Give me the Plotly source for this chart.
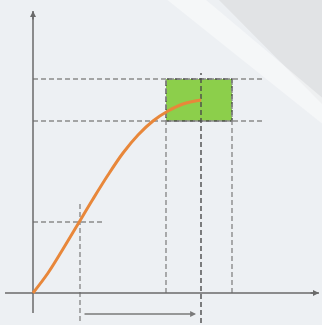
import plotly.graph_objects as go

# ---- data (units: chart units, origin at axes crossing) ----
curve_x = [0, 15, 30, 45, 60, 75, 90, 105, 120, 135, 150, 168]
curve_y = [0, 20, 44, 69, 94, 118, 140, 158, 172, 182, 189, 193]

rect_x = [133, 199]          # green box x-range
rect_y = [172, 214]          # green box y-range
h_levels = [172, 214]        # long horizontal dashed guides
h_extent = [0, 229]
v_box = [133, 199]           # vertical dashed guides under the box
v_box_range = [0, 214]
v_mid_x = 168
v_mid_range = [-30, 220]
small_x = 47
small_y = 71
small_v_range = [-28, 91]
small_h_range = [0, 69]
span_arrow = [50, 163]
span_arrow_y = -21
x_axis_range = [-28, 286]
y_axis_range = [-20, 282]

GUIDE = "#8a8a8a"
AXIS = "#6a6a6a"

fig = go.Figure()

# background decoration (paper coords)
fig.add_shape(type="path", xref="paper", yref="paper",
              path="M 0.68 1 L 1 1 L 1 0.68 Z",
              fillcolor="rgba(200,200,200,0.30)", line_width=0, layer="below")
fig.add_shape(type="path", xref="paper", yref="paper",
              path="M 0.52 1 L 0.64 1 L 1 0.70 L 1 0.62 Z",
              fillcolor="rgba(255,255,255,0.45)", line_width=0, layer="below")

def seg(xs, ys, color=GUIDE, dash="5px,3px", width=1.4):
    fig.add_trace(go.Scatter(x=xs, y=ys, mode="lines",
                             line=dict(color=color, width=width, dash=dash),
                             hoverinfo="skip", showlegend=False))

# green box
fig.add_trace(go.Scatter(x=[rect_x[0], rect_x[1], rect_x[1], rect_x[0], rect_x[0]],
                         y=[rect_y[0], rect_y[0], rect_y[1], rect_y[1], rect_y[0]],
                         mode="lines", fill="toself", fillcolor="#8ccf4b",
                         line=dict(color="#4a4a4a", width=1.4, dash="5px,3px"),
                         hoverinfo="skip", showlegend=False))

# horizontal guides
for lv in h_levels:
    seg(h_extent, [lv, lv])
# vertical guides under box
for vx in v_box:
    seg([vx, vx], v_box_range)
seg([v_mid_x, v_mid_x], v_mid_range, color="#4a4a4a")
# small guides
seg([small_x, small_x], small_v_range)
seg(small_h_range, [small_y, small_y])

# axes lines
seg(x_axis_range, [0, 0], color=AXIS, dash="solid", width=1.5)
seg([0, 0], y_axis_range, color=AXIS, dash="solid", width=1.5)

# orange curve
fig.add_trace(go.Scatter(x=curve_x, y=curve_y, mode="lines",
                         line=dict(color="#e8873a", width=3, shape="spline", smoothing=1.0),
                         hoverinfo="skip", showlegend=False))

# arrowheads
fig.add_annotation(x=x_axis_range[1], y=0, ax=x_axis_range[1] - 10, ay=0,
                   xref="x", yref="y", axref="x", ayref="y", text="",
                   showarrow=True, arrowhead=2, arrowsize=0.8, arrowwidth=1.5, arrowcolor=AXIS)
fig.add_annotation(x=0, y=y_axis_range[1], ax=0, ay=y_axis_range[1] - 10,
                   xref="x", yref="y", axref="x", ayref="y", text="",
                   showarrow=True, arrowhead=2, arrowsize=0.8, arrowwidth=1.5, arrowcolor=AXIS)
fig.add_annotation(x=span_arrow[1], y=span_arrow_y, ax=span_arrow[0], ay=span_arrow_y,
                   xref="x", yref="y", axref="x", ayref="y", text="",
                   showarrow=True, arrowhead=2, arrowsize=0.9, arrowwidth=1.3, arrowcolor="#7a7a7a")

fig.update_layout(
    width=322, height=325, margin=dict(l=0, r=0, t=0, b=0),
    paper_bgcolor="#edf0f3", plot_bgcolor="rgba(0,0,0,0)",
    xaxis=dict(range=[-33, 289], visible=False, fixedrange=True),
    yaxis=dict(range=[-32, 293], visible=False, fixedrange=True),
    showlegend=False,
)

fig.write_html("out.html", config={"displayModeBar": False},
               post_script="document.body.style.margin='0';")
